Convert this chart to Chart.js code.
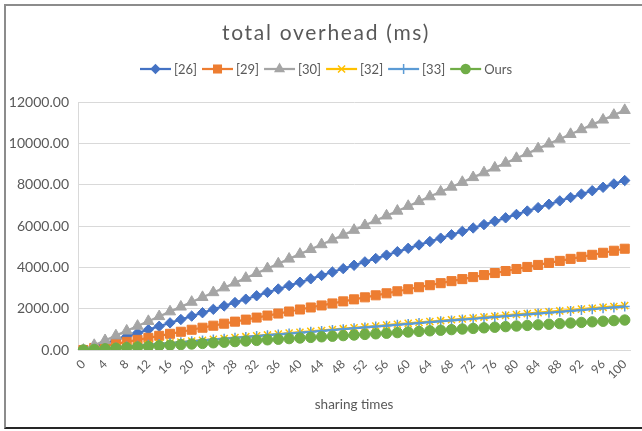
<!DOCTYPE html>
<html>
<head>
<meta charset="utf-8">
<script src="https://cdn.jsdelivr.net/npm/chart.js@4.4.1/dist/chart.umd.min.js"></script>
<style>
  html, body { margin: 0; padding: 0; background: #fff; }
  #frame {
    position: absolute; left: 4px; top: 4px; width: 640px; height: 421px;
    border-left: 2px solid #8c8c8c; border-top: 2px solid #8c8c8c; border-bottom: 2px solid #262626;
  }
  #c { position: absolute; left: 0; top: 0; }
</style>
</head>
<body>
<div id="frame"></div>
<canvas id="c" width="642" height="431"></canvas>
<script>
// Number of sharing operations (x axis)
const sharingTimes = [0,2,4,6,8,10,12,14,16,18,20,22,24,26,28,30,32,34,36,38,40,42,44,46,48,50,
  52,54,56,58,60,62,64,66,68,70,72,74,76,78,80,82,84,86,88,90,92,94,96,98,100];

// Total overhead in ms for each scheme
const ref26 = [0,164,328,492,656,820,984,1148,1312,1476,1640,1804,1968,2132,2296,2460,2624,2788,2952,3116,
  3280,3444,3608,3772,3936,4100,4264,4428,4592,4756,4920,5084,5248,5412,5576,5740,5904,6068,6232,6396,
  6560,6724,6888,7052,7216,7380,7544,7708,7872,8036,8200];
const ref29 = [0,98,196,294,392,490,588,686,784,882,980,1078,1176,1274,1372,1470,1568,1666,1764,1862,
  1960,2058,2156,2254,2352,2450,2548,2646,2744,2842,2940,3038,3136,3234,3332,3430,3528,3626,3724,3822,
  3920,4018,4116,4214,4312,4410,4508,4606,4704,4802,4900];
const ref30 = [0,232,464,696,928,1160,1392,1624,1856,2088,2320,2552,2784,3016,3248,3480,3712,3944,4176,4408,
  4640,4872,5104,5336,5568,5800,6032,6264,6496,6728,6960,7192,7424,7656,7888,8120,8352,8584,8816,9048,
  9280,9512,9744,9976,10208,10440,10672,10904,11136,11368,11600];
const ref32 = [0,43,86,129,172,215,258,301,344,387,430,473,516,559,602,645,688,731,774,817,
  860,903,946,989,1032,1075,1118,1161,1204,1247,1290,1333,1376,1419,1462,1505,1548,1591,1634,1677,
  1720,1763,1806,1849,1892,1935,1978,2021,2064,2107,2150];
const ref33 = [0,42,84,126,168,210,252,294,336,378,420,462,504,546,588,630,672,714,756,798,
  840,882,924,966,1008,1050,1092,1134,1176,1218,1260,1302,1344,1386,1428,1470,1512,1554,1596,1638,
  1680,1722,1764,1806,1848,1890,1932,1974,2016,2058,2100];
const ours = [0,29,58,87,116,145,174,203,232,261,290,319,348,377,406,435,464,493,522,551,
  580,609,638,667,696,725,754,783,812,841,870,899,928,957,986,1015,1044,1073,1102,1131,
  1160,1189,1218,1247,1276,1305,1334,1363,1392,1421,1450];

const seriesNames = ['[26]', '[29]', '[30]', '[32]', '[33]', 'Ours'];
const yTicks = [0, 2000, 4000, 6000, 8000, 10000, 12000];

const TEXT = '#595959';
const FONT = 'Lato, "Open Sans", sans-serif';

const styles = [
  { color: '#4472C4', point: 'rectRot',  radius: 5.2, fill: true  },
  { color: '#ED7D31', point: 'rect',     radius: 6.4, fill: true  },
  { color: '#A5A5A5', point: 'triangle', radius: 6.4, fill: true  },
  { color: '#FFC000', point: 'crossRot', radius: 5,   fill: false },
  { color: '#5B9BD5', point: 'cross',    radius: 5,   fill: false },
  { color: '#70AD47', point: 'circle',   radius: 5.2, fill: true  }
];
const values = [ref26, ref29, ref30, ref32, ref33, ours];

const datasets = values.map((v, i) => ({
  label: seriesNames[i],
  data: v,
  borderColor: styles[i].color,
  backgroundColor: styles[i].color,
  borderWidth: 2.25,
  pointStyle: styles[i].point,
  pointRadius: styles[i].radius,
  pointBackgroundColor: styles[i].color,
  pointBorderColor: styles[i].color,
  pointBorderWidth: styles[i].fill ? 1 : 1.5,
  tension: 0,
  order: values.length - i
}));

// Small marker shapes for the legend keys
function drawMarker(ctx, style, x, y) {
  const r = style.radius;
  ctx.save();
  ctx.fillStyle = style.color;
  ctx.strokeStyle = style.color;
  ctx.lineWidth = 1.5;
  ctx.beginPath();
  switch (style.point) {
    case 'rectRot':
      ctx.moveTo(x, y - r); ctx.lineTo(x + r, y); ctx.lineTo(x, y + r); ctx.lineTo(x - r, y); ctx.closePath(); ctx.fill(); break;
    case 'rect': {
      const s = r * Math.SQRT1_2; ctx.rect(x - s, y - s, 2 * s, 2 * s); ctx.fill(); break;
    }
    case 'triangle':
      ctx.moveTo(x, y - r); ctx.lineTo(x + r * 0.866, y + r / 2); ctx.lineTo(x - r * 0.866, y + r / 2); ctx.closePath(); ctx.fill(); break;
    case 'crossRot': {
      const s = r * Math.SQRT1_2;
      ctx.moveTo(x - s, y - s); ctx.lineTo(x + s, y + s); ctx.moveTo(x - s, y + s); ctx.lineTo(x + s, y - s); ctx.stroke(); break;
    }
    case 'cross':
      ctx.moveTo(x, y - r); ctx.lineTo(x, y + r); ctx.moveTo(x - r, y); ctx.lineTo(x + r, y); ctx.stroke(); break;
    default:
      ctx.arc(x, y, r, 0, Math.PI * 2); ctx.fill();
  }
  ctx.restore();
}

// Title and legend drawn above the plot
const header = {
  id: 'header',
  afterDraw(chart) {
    const ctx = chart.ctx;
    const cx = 326;
    ctx.save();
    ctx.fillStyle = TEXT;
    ctx.textBaseline = 'middle';
    ctx.textAlign = 'center';
    ctx.font = '21px ' + FONT;
    if ('letterSpacing' in ctx) ctx.letterSpacing = '1.7px';
    ctx.fillText('total overhead (ms)', cx, 33);
    if ('letterSpacing' in ctx) ctx.letterSpacing = '0px';

    ctx.font = '13px ' + FONT;
    ctx.textAlign = 'left';
    const lineLen = 31, gapText = 3, gapItem = 5;
    const widths = seriesNames.map(n => ctx.measureText(n).width);
    let total = 0;
    widths.forEach(w => { total += lineLen + gapText + w; });
    total += gapItem * (seriesNames.length - 1);
    let x = cx - total / 2;
    const y = 69;
    seriesNames.forEach((name, i) => {
      const st = styles[i];
      ctx.strokeStyle = st.color;
      ctx.lineWidth = 2.25;
      ctx.beginPath();
      ctx.moveTo(x, y); ctx.lineTo(x + lineLen, y);
      ctx.stroke();
      drawMarker(ctx, st, x + lineLen / 2, y);
      ctx.fillStyle = TEXT;
      ctx.fillText(name, x + lineLen + gapText, y + 0.5);
      x += lineLen + gapText + widths[i] + gapItem;
    });
    ctx.restore();
  }
};

new Chart(document.getElementById('c'), {
  type: 'line',
  data: { labels: sharingTimes.map(String), datasets },
  options: {
    responsive: false,
    animation: false,
    layout: { padding: { left: 4, right: 9, top: 102, bottom: 14 } },
    plugins: { legend: { display: false }, title: { display: false }, tooltip: { enabled: false } },
    scales: {
      x: {
        offset: true,
        grid: { display: false, drawTicks: false },
        border: { color: '#d9d9d9', width: 1 },
        ticks: {
          autoSkip: false, maxRotation: 45, minRotation: 45, padding: 7,
          color: TEXT, font: { family: FONT, size: 12 },
          callback: (v, i) => (i % 2 === 0 ? String(sharingTimes[i]) : '')
        },
        title: { display: true, text: 'sharing times', color: TEXT, font: { family: FONT, size: 13.5 }, padding: { top: 4, bottom: 4 } },
        afterFit(s) { s.height = 67; }
      },
      y: {
        min: yTicks[0], max: yTicks[yTicks.length - 1],
        afterBuildTicks(s) { s.ticks = yTicks.map(v => ({ value: v })); },
        ticks: { color: TEXT, font: { family: FONT, size: 14 }, padding: 9, callback: v => Number(v).toFixed(2) },
        grid: { color: '#d9d9d9', drawTicks: false },
        border: { display: true, color: '#d9d9d9' },
        afterFit(s) { s.width = 74; }
      }
    }
  },
  plugins: [header]
});
</script>
</body>
</html>
